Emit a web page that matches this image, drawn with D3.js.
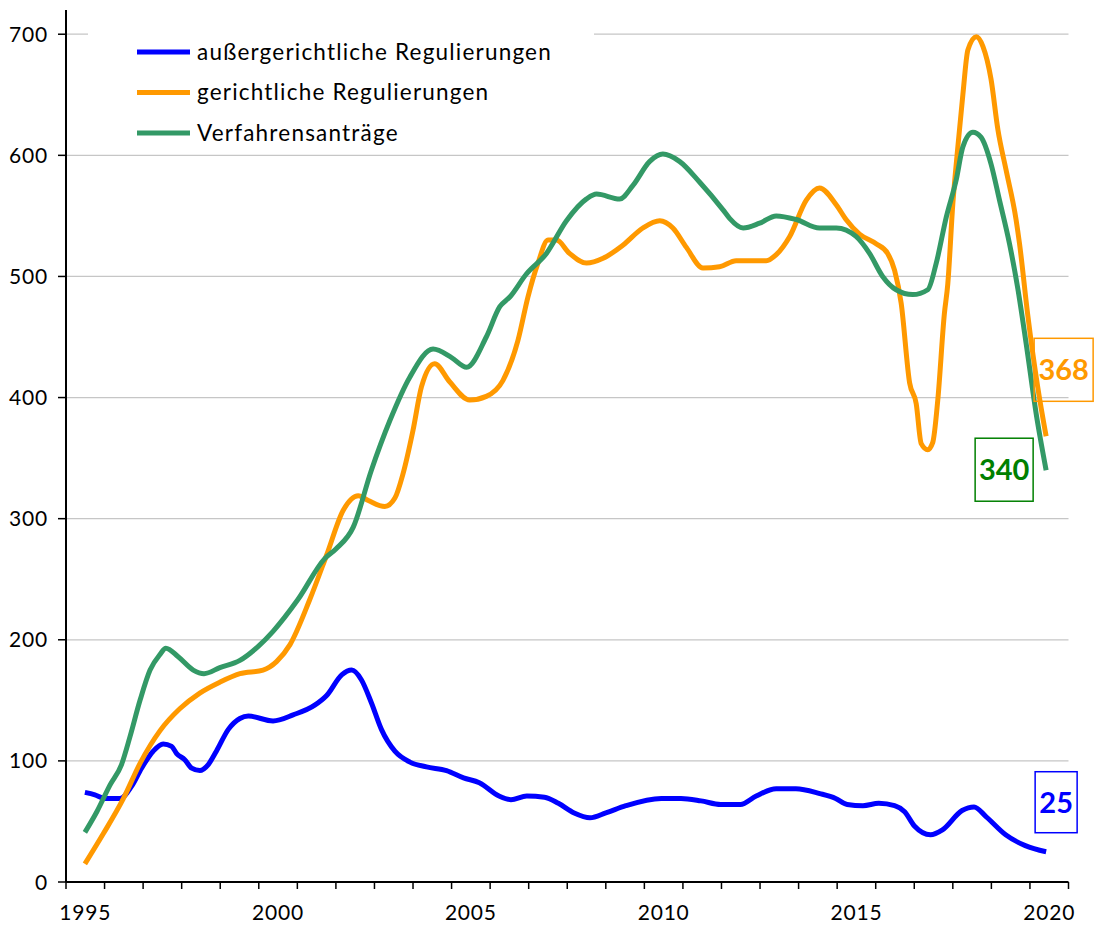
<!DOCTYPE html>
<html>
<head>
<meta charset="utf-8">
<script src="https://cdn.jsdelivr.net/npm/d3@7"></script>
<style>
  html, body { margin: 0; padding: 0; background: #fff; }
  svg { display: block; }
  text { font-family: Lato, "Open Sans", sans-serif; }
</style>
</head>
<body>
<svg id="chart" width="1105" height="927"></svg>
<script>
// ---- data (decimal year, value) ----
const seriesNames = ["außergerichtliche Regulierungen", "gerichtliche Regulierungen", "Verfahrensanträge"];
const seriesColors = ["#0000FF", "#FF9900", "#339966"];
const labelColors = ["#0000FF", "#FF9900", "#008000"];

const aussergerichtlich = [[1995.49,74],[1995.75,72],[1996.01,69],[1996.40,69],[1996.70,79],[1996.96,94],[1997.26,108],[1997.52,114],[1997.74,112],[1997.87,106],[1998.08,101],[1998.26,94],[1998.47,92],[1998.69,97],[1998.90,108],[1999.21,126],[1999.51,135],[1999.73,137],[2000.37,133],[2000.89,138],[2001.45,146],[2001.76,154],[2002.15,171],[2002.41,175],[2002.66,167],[2002.92,148],[2003.18,126],[2003.53,108],[2003.92,99],[2004.35,95],[2004.87,92],[2005.31,86],[2005.72,82],[2006.23,71],[2006.54,68],[2006.95,71],[2007.41,70],[2007.77,65],[2008.18,57],[2008.59,53],[2009.00,57],[2009.52,63],[2010.44,69],[2010.95,69],[2011.47,67],[2011.98,64],[2012.49,64],[2012.90,71],[2013.42,77],[2013.93,77],[2014.55,73],[2014.96,69],[2015.26,64],[2015.67,63],[2016.08,65],[2016.49,63],[2016.75,58],[2017.01,46],[2017.42,39],[2017.73,43],[2018.24,59],[2018.55,62],[2018.86,54],[2019.37,39],[2019.88,30],[2020.42,25]];

const gerichtlich = [[1995.49,15],[1995.97,40],[1996.49,69],[1996.92,98],[1997.44,125],[1997.95,143],[1998.47,156],[1998.99,165],[1999.51,172],[2000.11,175],[2000.46,182],[2000.81,196],[2001.32,233],[2001.76,270],[2002.19,307],[2002.58,319],[2002.84,315],[2003.27,310],[2003.53,317],[2003.74,337],[2004.00,373],[2004.22,409],[2004.56,428],[2004.95,413],[2005.47,398],[2005.90,401],[2006.33,414],[2006.72,447],[2006.98,483],[2007.24,511],[2007.50,530],[2007.72,530],[2008.06,519],[2008.50,511],[2008.93,515],[2009.45,526],[2009.96,540],[2010.40,546],[2010.74,540],[2011.09,524],[2011.52,507],[2011.95,508],[2012.38,513],[2013.16,513],[2013.42,518],[2013.77,533],[2014.20,563],[2014.54,573],[2014.98,559],[2015.23,547],[2015.58,535],[2016.01,527],[2016.31,519],[2016.49,505],[2016.66,478],[2016.88,412],[2017.05,395],[2017.18,362],[2017.35,357],[2017.48,363],[2017.61,398],[2017.78,469],[2017.87,494],[2018.00,560],[2018.13,607],[2018.26,650],[2018.39,687],[2018.61,698],[2018.78,690],[2018.99,663],[2019.17,621],[2019.38,588],[2019.64,547],[2019.73,527],[2019.94,469],[2020.20,409],[2020.42,368]];

const verfahrensantraege = [[1995.49,41],[1995.80,58],[1996.14,80],[1996.44,97],[1996.66,120],[1996.92,150],[1997.18,175],[1997.44,188],[1997.59,193],[1997.91,186],[1998.30,175],[1998.58,172],[1998.99,177],[1999.51,183],[2000.00,195],[2000.37,207],[2001.01,233],[2001.71,267],[2002.00,275],[2002.45,293],[2002.92,340],[2003.40,381],[2003.92,417],[2004.52,440],[2005.00,433],[2005.39,425],[2005.90,450],[2006.25,475],[2006.51,483],[2006.94,502],[2007.46,519],[2007.98,546],[2008.50,564],[2008.76,568],[2009.36,564],[2009.70,575],[2010.14,595],[2010.48,601],[2010.91,595],[2011.43,578],[2012.04,555],[2012.21,548],[2012.56,540],[2012.99,544],[2013.42,550],[2013.94,547],[2014.54,540],[2014.98,540],[2015.49,533],[2015.84,519],[2016.18,500],[2016.53,489],[2016.96,485],[2017.35,489],[2017.57,511],[2017.83,549],[2018.09,580],[2018.26,607],[2018.52,619],[2018.73,615],[2018.99,593],[2019.21,563],[2019.47,527],[2019.68,491],[2019.90,445],[2020.16,387],[2020.42,340]];

const yTicks = [0, 100, 200, 300, 400, 500, 600, 700];
const xLabelYears = [1995, 2000, 2005, 2010, 2015, 2020];
const firstYear = 1995, lastYear = 2020;

// ---- layout ----
const svg = d3.select("#chart");
const x = d3.scaleLinear().domain([firstYear, lastYear + 1]).range([66, 1068.5]);
const y = d3.scaleLinear().domain([0, 720]).range([882, 10]);

// gridlines
svg.append("g").selectAll("line").data(yTicks.filter(d => d > 0)).join("line")
  .attr("x1", x.range()[0]).attr("x2", x.range()[1])
  .attr("y1", d => y(d)).attr("y2", d => y(d))
  .attr("stroke", "#c6c6c6").attr("stroke-width", 1.2);

// legend background (covers gridline)
svg.append("rect").attr("x", 88).attr("y", 22).attr("width", 506).attr("height", 126).attr("fill", "#fff");

// lines
const line = d3.line().x(d => x(d[0])).y(d => y(d[1])).curve(d3.curveMonotoneX);
const allSeries = [aussergerichtlich, gerichtlich, verfahrensantraege];
[0, 1, 2].forEach(i => {
  svg.append("path").datum(allSeries[i])
    .attr("d", line).attr("fill", "none")
    .attr("stroke", seriesColors[i]).attr("stroke-width", 5)
    .attr("stroke-linejoin", "round");
});

// y axis
const yAxis = svg.append("g");
yAxis.append("line").attr("x1", 66).attr("x2", 66).attr("y1", y(720)).attr("y2", y(0))
  .attr("stroke", "#000").attr("stroke-width", 2);
yAxis.selectAll(".yt").data(yTicks).join("line")
  .attr("x1", 58).attr("x2", 66).attr("y1", d => y(d)).attr("y2", d => y(d))
  .attr("stroke", "#000").attr("stroke-width", 1.5);
yAxis.selectAll("text").data(yTicks).join("text")
  .attr("x", 48).attr("y", d => y(d)).attr("dy", "0.36em")
  .attr("text-anchor", "end").attr("font-size", 21).attr("letter-spacing", 0.8).attr("fill", "#000")
  .text(d => d);

// x axis
const xAxis = svg.append("g");
xAxis.append("line").attr("x1", x(firstYear)).attr("x2", x(lastYear + 1)).attr("y1", y(0)).attr("y2", y(0))
  .attr("stroke", "#000").attr("stroke-width", 2);
xAxis.selectAll(".xt").data(d3.range(firstYear, lastYear + 2)).join("line")
  .attr("x1", d => x(d)).attr("x2", d => x(d)).attr("y1", y(0)).attr("y2", y(0) + 7)
  .attr("stroke", "#000").attr("stroke-width", 1.5);
xAxis.selectAll("text").data(xLabelYears).join("text")
  .attr("x", d => x(d + 0.5)).attr("y", 920)
  .attr("text-anchor", "middle").attr("font-size", 21).attr("letter-spacing", 0.8).attr("fill", "#000")
  .text(d => d);

// legend
const lg = svg.append("g");
seriesNames.forEach((n, i) => {
  const cy = 52 + i * 40.5;
  lg.append("line").attr("x1", 137).attr("x2", 190).attr("y1", cy).attr("y2", cy)
    .attr("stroke", seriesColors[i]).attr("stroke-width", 5);
  lg.append("text").attr("x", 197).attr("y", cy).attr("dy", "0.35em")
    .attr("font-size", 22.5).attr("letter-spacing", 1.2).attr("fill", "#000").text(n);
});

// end value labels (offsets from the last point, in px)
const boxes = [
  { s: 0, dx: -11, dy: -80, w: 42, h: 61 },
  { s: 1, dx: -12, dy: -98, w: 59, h: 63 },
  { s: 2, dx: -71, dy: -32, w: 58, h: 63 }
];
boxes.forEach(b => {
  const last = allSeries[b.s][allSeries[b.s].length - 1];
  const bx = x(last[0]) + b.dx, by = y(last[1]) + b.dy;
  svg.append("rect").attr("x", bx).attr("y", by).attr("width", b.w).attr("height", b.h)
    .attr("fill", "none").attr("stroke", labelColors[b.s]).attr("stroke-width", 1.5);
  svg.append("text").attr("x", bx + b.w / 2).attr("y", by + b.h / 2).attr("dy", "0.36em")
    .attr("text-anchor", "middle").attr("font-size", 29).attr("font-weight", "bold")
    .attr("fill", labelColors[b.s]).text(last[1]);
});
</script>
</body>
</html>
